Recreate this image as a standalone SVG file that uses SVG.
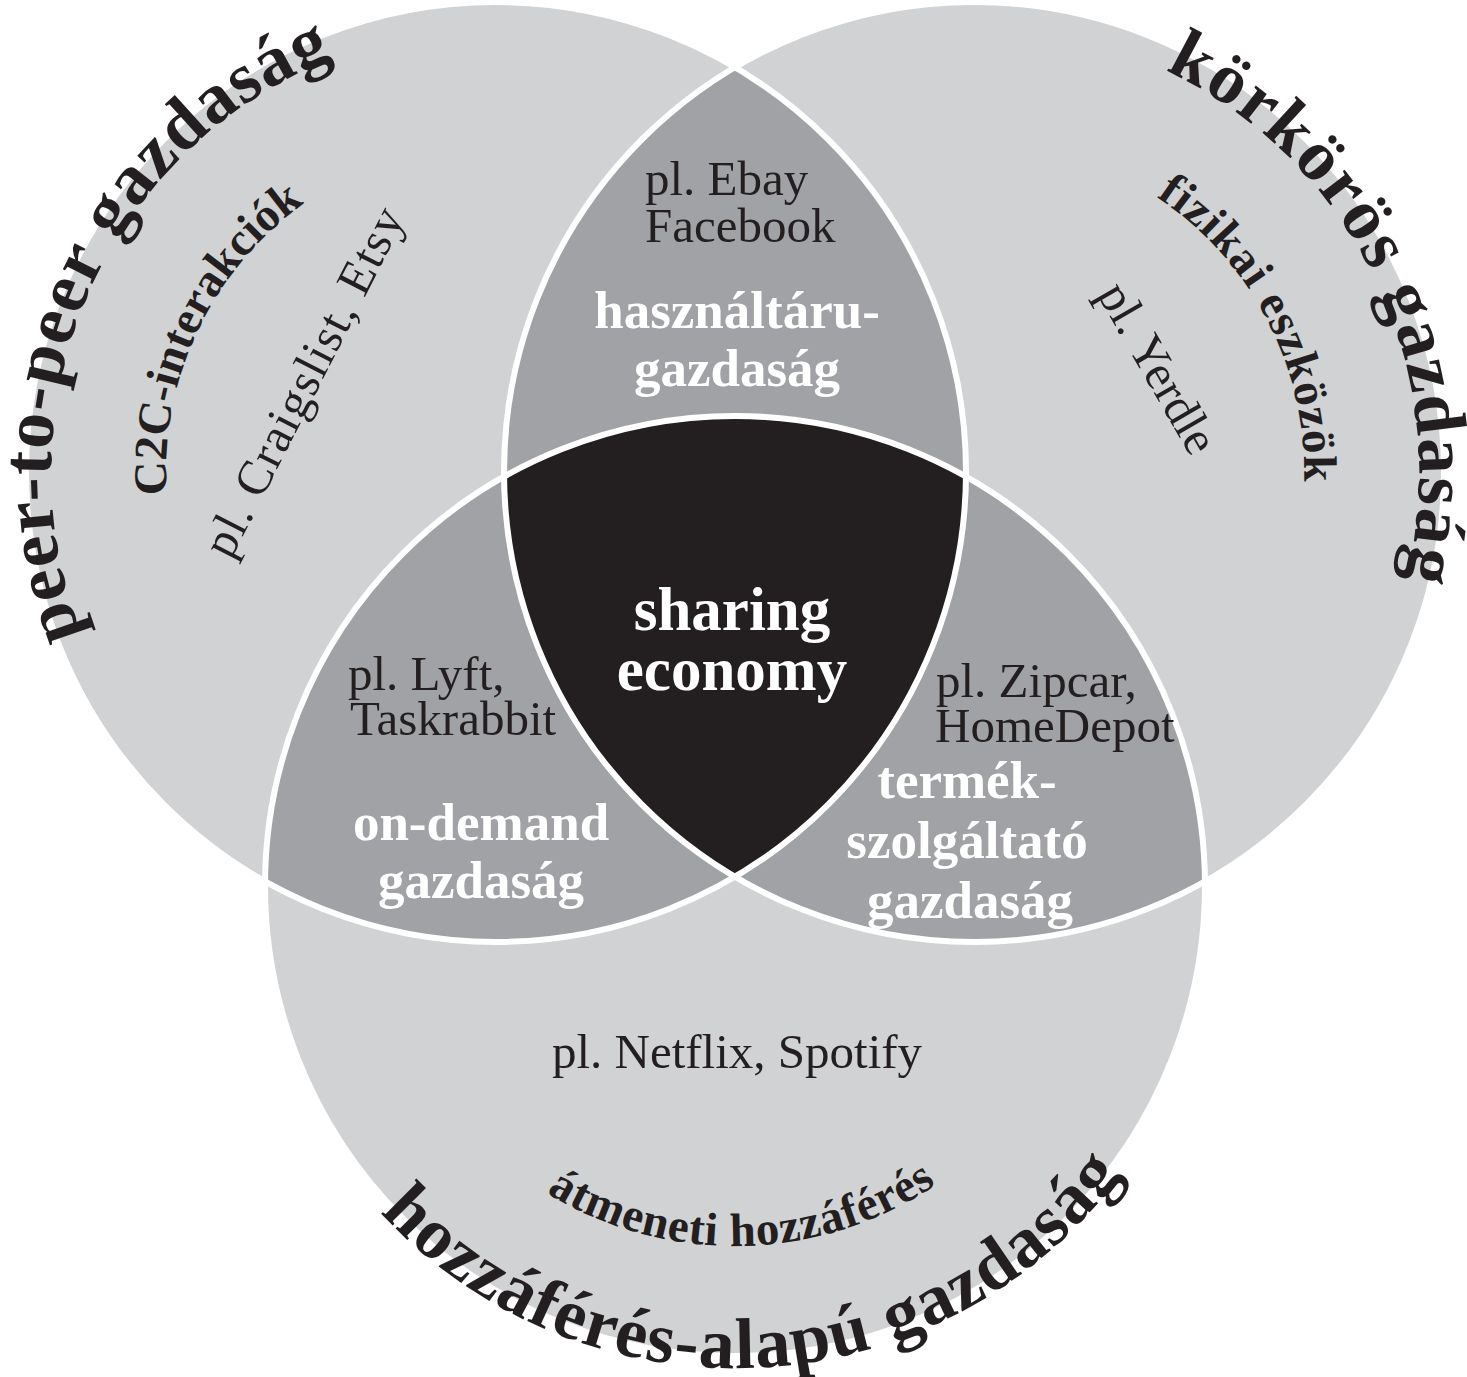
<svg xmlns="http://www.w3.org/2000/svg" width="1467" height="1377" viewBox="0 0 1467 1377">
<defs>
<style>
.light{fill:#d1d2d4}
.dark{fill:#a1a2a5}
.core{fill:#231f20}
.outline{fill:none;stroke:#ffffff;stroke-width:6}
text{font-family:"Liberation Serif","Times New Roman",serif;fill:#231f20}
.reg{font-size:49px}
.bw{font-weight:bold;fill:#ffffff;font-size:53px}
.big{font-weight:bold;fill:#ffffff;font-size:61px}
.title{font-weight:bold;font-size:72px}
.sub{font-weight:bold;font-size:47px}
</style>
<clipPath id="clipA"><circle cx="496" cy="472" r="470"/></clipPath>
<clipPath id="clipB"><circle cx="974" cy="472" r="470"/></clipPath>
<path id="pTL" d="M138.3,736.7 A445,445 0 0 1 445.6,29.9"/>
<path id="pTR" d="M1010.5,28.5 A445,445 0 0 1 1339.9,725.3"/>
<path id="pB" d="M309.4,1112.3 A482,482 0 0 0 1181.9,1066.6"/>
<path id="pC2C" d="M224.9,660.1 A330,330 0 0 1 468.7,143.1"/>
<path id="pFiz" d="M989.0,142.3 A330,330 0 0 1 1252.0,649.8"/>
<path id="pAtm" d="M427.0,1072.5 A360,360 0 0 0 1050.5,1059.4"/>
</defs>

<g id="circle-peer-to-peer"><circle class="light" cx="496" cy="472" r="470"/></g>
<g id="circle-korkoros"><circle class="light" cx="974" cy="472" r="470"/></g>
<g id="circle-hozzaferes"><circle class="light" cx="735" cy="886" r="470"/></g>
<g id="overlap-hasznaltaru"><circle class="dark" cx="974" cy="472" r="470" clip-path="url(#clipA)"/></g>
<g id="overlap-on-demand"><circle class="dark" cx="735" cy="886" r="470" clip-path="url(#clipA)"/></g>
<g id="overlap-termek-szolgaltato"><circle class="dark" cx="735" cy="886" r="470" clip-path="url(#clipB)"/></g>
<g id="core-sharing-economy"><path class="core" d="M504.03,476.63 A470,470 0 0 1 965.97,476.63 A470,470 0 0 1 735,876.7 A470,470 0 0 1 504.03,476.63Z"/></g>
<g id="outlines">
<circle class="outline" cx="496" cy="472" r="470"/>
<circle class="outline" cx="974" cy="472" r="470"/>
<circle class="outline" cx="735" cy="886" r="470"/>
</g>

<g id="labels-peer-to-peer">
<text class="title" text-anchor="middle"><textPath href="#pTL" startOffset="50%" textLength="699">peer-to-peer gazdaság</textPath></text>
<text class="sub" text-anchor="middle"><textPath href="#pC2C" startOffset="50%">C2C-interakciók</textPath></text>
<text class="reg" text-anchor="middle" transform="translate(318,389) rotate(-63)" textLength="385">pl. Craigslist, Etsy</text>
</g>
<g id="labels-korkoros">
<text class="title" text-anchor="middle"><textPath href="#pTR" startOffset="50%" textLength="610">körkörös gazdaság</textPath></text>
<text class="sub" text-anchor="middle"><textPath href="#pFiz" startOffset="50%" textLength="335">fizikai eszközök</textPath></text>
<text class="reg" text-anchor="middle" transform="translate(1144,376) rotate(60)">pl. Yerdle</text>
</g>
<g id="labels-hozzaferes">
<text class="title" text-anchor="middle"><textPath href="#pB" startOffset="50%" textLength="848">hozzáférés-alapú gazdaság</textPath></text>
<text class="sub" text-anchor="middle"><textPath href="#pAtm" startOffset="50%" textLength="412">átmeneti hozzáférés</textPath></text>
<text class="reg" text-anchor="middle" x="737" y="1068">pl. Netflix, Spotify</text>
</g>
<g id="labels-hasznaltaru">
<text class="reg" x="645" y="195">pl. Ebay</text>
<text class="reg" x="645" y="242">Facebook</text>
<text class="bw" text-anchor="middle" x="737" y="328">használtáru-</text>
<text class="bw" text-anchor="middle" x="737" y="386">gazdaság</text>
</g>
<g id="labels-sharing-economy">
<text class="big" text-anchor="middle" x="732" y="630">sharing</text>
<text class="big" text-anchor="middle" x="732" y="690">economy</text>
</g>
<g id="labels-on-demand">
<text class="reg" x="348" y="690">pl. Lyft,</text>
<text class="reg" x="350" y="735">Taskrabbit</text>
<text class="bw" text-anchor="middle" x="481" y="840">on-demand</text>
<text class="bw" text-anchor="middle" x="481" y="898">gazdaság</text>
</g>
<g id="labels-termek-szolgaltato">
<text class="reg" x="936" y="697">pl. Zipcar,</text>
<text class="reg" x="935" y="742">HomeDepot</text>
<text class="bw" text-anchor="middle" x="967" y="798">termék-</text>
<text class="bw" text-anchor="middle" x="967" y="858">szolgáltató</text>
<text class="bw" text-anchor="middle" x="970" y="918">gazdaság</text>
</g>
</svg>
